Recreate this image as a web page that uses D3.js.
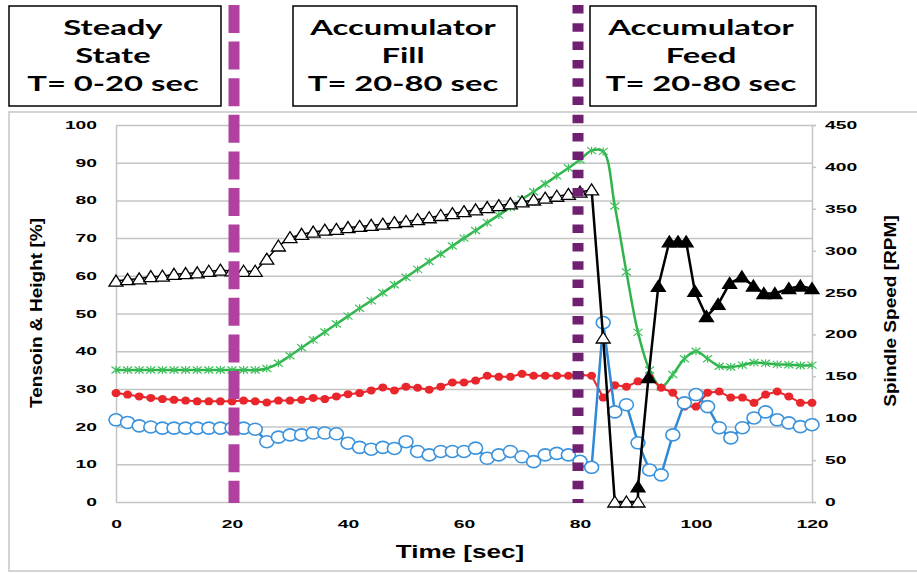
<!DOCTYPE html>
<html>
<head>
<meta charset="utf-8">
<script src="https://cdn.jsdelivr.net/npm/d3@7.9.0/dist/d3.min.js"></script>
<style>
  body { margin: 0; background: #fff; }
  svg { display: block; }
  .tick text { font-family: "Liberation Sans", Arial, sans-serif; font-weight: bold; font-size: 11px; fill: #000; }
</style>
</head>
<body>
<svg id="chart" width="917" height="573"></svg>
<script>
// time stamps (sec)
const times = [0, 2, 4, 6, 8, 10, 12, 14, 16, 18, 20, 22, 24, 26, 28, 30, 32, 34, 36, 38, 40,
  42, 44, 46, 48, 50, 52, 54, 56, 58, 60, 62, 64, 66, 68, 70, 72, 74, 76, 78, 80,
  82, 84, 86, 88, 90, 92, 94, 96, 98, 100, 102, 104, 106, 108, 110, 112, 114, 116, 118, 120];

// green (x markers)
const greenVals = [35, 35, 35, 35, 35, 35, 35, 35, 35, 35, 35, 35, 35, 35.4, 36.8, 38.8, 40.9, 43, 45.1, 47.2, 49.3,
  51.4, 53.4, 55.5, 57.6, 59.6, 61.7, 63.8, 65.8, 67.9, 70, 72, 74.1, 76.1, 78.2, 80.3, 82.3, 84.4, 86.5, 88.6, 90.8,
  93.2, 93, 78.5, 61, 45, 35, 30.5, 33.8, 38, 40, 38, 36, 35.8, 36.3, 37, 36.8, 36.5, 36.4, 36.2, 36.3];

// red (filled dots)
const redVals = [28.9, 28.5, 28, 27.6, 27.3, 27.1, 26.9, 26.7, 26.7, 26.7, 26.7, 26.9, 26.7, 26.4, 26.9, 26.9, 27.1, 27.6, 27.3, 28, 28.6,
  28.9, 29.6, 30.4, 29.6, 30.6, 30.3, 29.8, 30.6, 31.7, 31.7, 32.2, 33.5, 33.2, 33.2, 34, 33.5, 33.5, 33.5, 33.5, 33.7,
  33.5, 27.7, 31, 30.6, 32, 33, 30.3, 29, 25.3, 25.3, 29, 29.3, 27.7, 27.7, 26.3, 28.5, 29.3, 28, 26.3, 26.3];

// blue (open circles)
const blueVals = [21.8, 21.1, 20.2, 19.9, 19.6, 19.6, 19.6, 19.6, 19.6, 19.6, 19.6, 19.6, 19.3, 16, 17.2, 17.8, 17.8, 18.3, 18.3, 18.1, 15.6,
  14.5, 14, 14.5, 14.2, 16, 13.4, 12.5, 13.4, 13.4, 13.4, 14.3, 11.6, 12.5, 13.4, 12, 10.7, 12.5, 12.9, 12.5, 10.8,
  9.2, 47.6, 23.9, 25.8, 15.7, 8.5, 7.2, 17.8, 26.3, 28.5, 25.3, 19.7, 17, 19.7, 22.3, 23.9, 21.8, 21, 20, 20.5];

// black open triangles (t = 0..90)
const openTriTimes = times.slice(0, 46);
const openTriVals = [58.6, 59, 59.2, 59.8, 59.9, 60.4, 60.6, 60.8, 61.2, 61.5, 61.3, 61.2, 61.2, 64.4, 67.9, 70.1, 71, 71.6, 72.1, 72.3, 72.8,
  73.1, 73.4, 73.7, 74.1, 74.4, 74.9, 75.4, 76, 76.5, 77, 77.5, 78.1, 78.6, 79.1, 79.6, 80.1, 80.6, 81.1, 81.6, 82.2,
  82.8, 43.5, 0, 0, 0];

// black filled triangles (t = 90..120)
const fillTriTimes = [90, 91.8, 93.5, 95.4, 96.9, 98.3, 99.8, 101.8, 103.8, 105.8, 107.9, 109.9, 111.7, 113.6, 116, 118, 120];
const fillTriVals = [4, 33, 57.2, 69, 69, 69, 55.9, 49.2, 52.4, 58, 59.7, 57.3, 55.3, 55.3, 56.6, 57.3, 56.6];

const leftTicks = [0, 10, 20, 30, 40, 50, 60, 70, 80, 90, 100];
const rightTicks = [0, 50, 100, 150, 200, 250, 300, 350, 400, 450];
const xTicks = [0, 20, 40, 60, 80, 100, 120];
const phaseMarks = [20, 80];
const phaseBoxes = [
  ['Steady', 'State', 'T= 0-20 sec'],
  ['Accumulator', 'Fill', 'T= 20-80 sec'],
  ['Accumulator', 'Feed', 'T= 20-80 sec'],
];

const svg = d3.select('#chart');
const x = d3.scaleLinear().domain([0, 120]).range([116, 812]);
const yL = d3.scaleLinear().domain([0, 100]).range([502, 125]);
const yR = d3.scaleLinear().domain([0, 450]).range([502, 125]);

function stretch(sel, factor) {
  sel.each(function () {
    const w = this.getComputedTextLength();
    d3.select(this).attr('textLength', w * factor).attr('lengthAdjust', 'spacingAndGlyphs');
  });
}

// outer chart frame
svg.append('rect')
  .attr('x', 9).attr('y', 112).attr('width', 920).attr('height', 459)
  .attr('fill', 'none').attr('stroke', '#d4d4d4').attr('stroke-width', 2);

// phase boxes
const boxX = [[9, 221], [293, 517], [590, 816]];
const lineY = [35, 63, 91];
phaseBoxes.forEach((lines, i) => {
  const [x0, x1] = boxX[i];
  svg.append('rect')
    .attr('x', x0).attr('y', 6).attr('width', x1 - x0).attr('height', 100)
    .attr('fill', '#fff').attr('stroke', '#000').attr('stroke-width', 1.5);
  lines.forEach((t, j) => {
    svg.append('text')
      .attr('x', (x0 + x1) / 2 - 2).attr('y', lineY[j])
      .attr('text-anchor', 'middle')
      .attr('font-family', 'Lato, "Open Sans", sans-serif')
      .attr('font-weight', 'bold').attr('font-size', 21)
      .text(t)
      .call(stretch, 1.56);
  });
});

// grid
svg.append('g')
  .attr('transform', `translate(${x(0)},0)`)
  .call(d3.axisLeft(yL).tickValues(leftTicks.slice(1)).tickSize(-(x(120) - x(0))).tickFormat(''))
  .call((g) => g.select('.domain').remove())
  .call((g) => g.selectAll('line').attr('stroke', '#c4c4c4').attr('stroke-width', 1.5));

// left axis
svg.append('g')
  .attr('transform', `translate(${x(0)},0)`)
  .call(d3.axisLeft(yL).tickValues(leftTicks).tickSize(0).tickPadding(19).tickFormat((d) => String(d)))
  .call((g) => g.select('.domain').attr('stroke', '#c4c4c4').attr('stroke-width', 1.5))
  .call((g) => stretch(g.selectAll('text'), 1.75));

// right axis
svg.append('g')
  .attr('transform', `translate(${x(120)},0)`)
  .call(d3.axisRight(yR).tickValues(rightTicks).tickSize(4).tickPadding(9).tickFormat((d) => String(d)))
  .call((g) => g.select('.domain').attr('stroke', '#c4c4c4').attr('stroke-width', 1.5))
  .call((g) => g.selectAll('line').attr('stroke', '#c4c4c4').attr('stroke-width', 1.5))
  .call((g) => stretch(g.selectAll('text'), 1.75));

// bottom axis
svg.append('g')
  .attr('transform', `translate(0,${yL(0)})`)
  .call(d3.axisBottom(x).tickValues(xTicks).tickSize(0).tickPadding(18).tickFormat((d) => String(d)))
  .call((g) => g.select('.domain').attr('stroke', '#c4c4c4').attr('stroke-width', 1.5))
  .call((g) => stretch(g.selectAll('text'), 1.75));

// axis titles
svg.append('text')
  .attr('transform', `translate(36,313) rotate(-90)`)
  .attr('text-anchor', 'middle').attr('dominant-baseline', 'central')
  .attr('font-family', '"Liberation Sans", Arial, sans-serif')
  .attr('font-weight', 'bold').attr('font-size', 17)
  .text('Tensoin & Height [%]')
  .call(stretch, 1.12);

svg.append('text')
  .attr('transform', `translate(890,311) rotate(-90)`)
  .attr('text-anchor', 'middle').attr('dominant-baseline', 'central')
  .attr('font-family', '"Liberation Sans", Arial, sans-serif')
  .attr('font-weight', 'bold').attr('font-size', 17)
  .text('Spindle Speed [RPM]')
  .call(stretch, 1.12);

svg.append('text')
  .attr('x', 460).attr('y', 558)
  .attr('text-anchor', 'middle')
  .attr('font-family', '"Liberation Sans", Arial, sans-serif')
  .attr('font-weight', 'bold').attr('font-size', 18)
  .text('Time [sec]')
  .call(stretch, 1.45);

// series
const green = times.map((t, i) => [t, greenVals[i]]);
const red = times.map((t, i) => [t, redVals[i]]);
const blue = times.map((t, i) => [t, blueVals[i]]);
const openTri = openTriTimes.map((t, i) => [t, openTriVals[i]]);
const fillTri = fillTriTimes.map((t, i) => [t, fillTriVals[i]]);

const line = d3.line().x((d) => x(d[0])).y((d) => yL(d[1]));
const smooth = d3.line().x((d) => x(d[0])).y((d) => yL(d[1])).curve(d3.curveCatmullRom.alpha(0.5));

// green
svg.append('path').attr('d', smooth(green))
  .attr('fill', 'none').attr('stroke', '#2fb34b').attr('stroke-width', 2.5);
svg.append('g').selectAll('path').data(green).join('path')
  .attr('transform', (d) => `translate(${x(d[0])},${yL(d[1])})`)
  .attr('d', 'M-4.5,-3.5L4.5,3.5M-4.5,3.5L4.5,-3.5M0,-4L0,4')
  .attr('stroke', '#3cbf5a').attr('stroke-width', 1.2).attr('fill', 'none');

// red
svg.append('path').attr('d', line(red))
  .attr('fill', 'none').attr('stroke', '#e8262b').attr('stroke-width', 2);
svg.append('g').selectAll('ellipse').data(red).join('ellipse')
  .attr('cx', (d) => x(d[0])).attr('cy', (d) => yL(d[1]))
  .attr('rx', 4.5).attr('ry', 4)
  .attr('fill', '#e8262b');

// blue
svg.append('path').attr('d', line(blue))
  .attr('fill', 'none').attr('stroke', '#2e8ad6').attr('stroke-width', 2.5);
svg.append('g').selectAll('ellipse').data(blue).join('ellipse')
  .attr('cx', (d) => x(d[0])).attr('cy', (d) => yL(d[1]))
  .attr('rx', 7).attr('ry', 6)
  .attr('fill', '#fff').attr('stroke', '#3a93dc').attr('stroke-width', 1.6);

// black triangles: thin line while slow, heavy after the drop
const tri = 'M0,-6L7,5L-7,5Z';
const allTri = openTri.concat(fillTri);
svg.append('path').attr('d', line(allTri.slice(0, 42)))
  .attr('fill', 'none').attr('stroke', '#000').attr('stroke-width', 1.5);
svg.append('path').attr('d', line(allTri.slice(41)))
  .attr('fill', 'none').attr('stroke', '#000').attr('stroke-width', 2.5);
svg.append('g').selectAll('path').data(openTri).join('path')
  .attr('transform', (d) => `translate(${x(d[0])},${yL(d[1])})`)
  .attr('d', tri)
  .attr('fill', '#fff').attr('stroke', '#000').attr('stroke-width', 1.3);
svg.append('g').selectAll('path').data(fillTri).join('path')
  .attr('transform', (d) => `translate(${x(d[0])},${yL(d[1])})`)
  .attr('d', tri)
  .attr('fill', '#000').attr('stroke', '#000').attr('stroke-width', 1.3);

// phase separators
svg.append('line')
  .attr('x1', x(phaseMarks[0]) + 2).attr('x2', x(phaseMarks[0]) + 2)
  .attr('y1', 5).attr('y2', yL(0) + 1)
  .attr('stroke', '#b0419e').attr('stroke-width', 11)
  .attr('stroke-dasharray', '28,8.6');

svg.append('line')
  .attr('x1', x(phaseMarks[1]) - 2).attr('x2', x(phaseMarks[1]) - 2)
  .attr('y1', 5).attr('y2', yL(0) + 1)
  .attr('stroke', '#702070').attr('stroke-width', 11)
  .attr('stroke-dasharray', '8.5,9.8');
</script>
</body>
</html>
